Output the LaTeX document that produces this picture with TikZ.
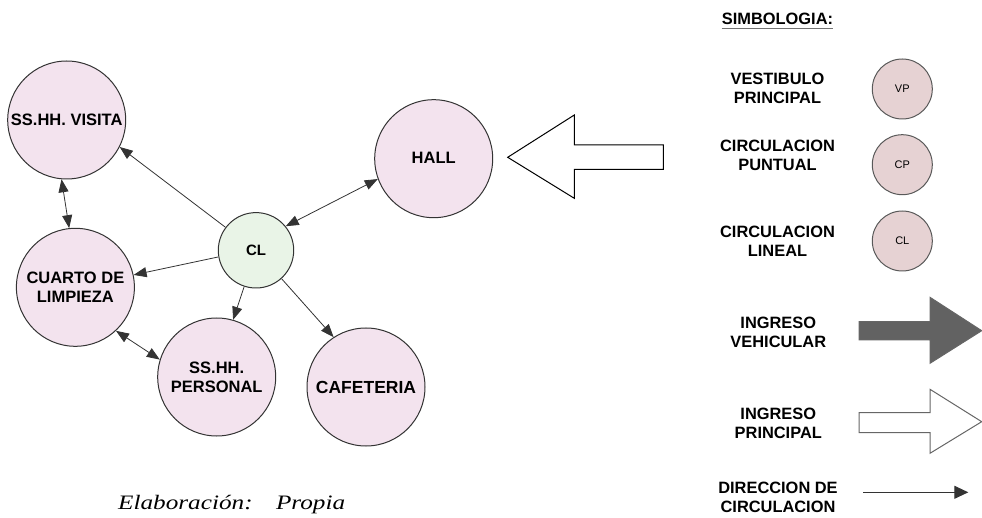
\documentclass[tikz,border=0pt]{standalone}
\usepackage{graphicx}
\usepackage{fontspec}
\setmainfont{Liberation Sans}
\newfontfamily\capfont{Liberation Serif}
\usetikzlibrary{arrows.meta}
\definecolor{roomfill}{HTML}{F3E3EE}
\definecolor{clfill}{HTML}{E9F4E7}
\definecolor{legfill}{HTML}{E6D2D3}
\definecolor{darkarrow}{HTML}{626262}
\definecolor{edge}{HTML}{333333}
\begin{document}
\begin{tikzpicture}[x=1pt,y=-1pt,
  room/.style={circle, draw=edge, line width=1pt, fill=roomfill, minimum size=118pt,
    inner sep=0pt, align=center, font=\bfseries\fontsize{16.5}{19}\selectfont},
  conn/.style={draw=edge, line width=0.8pt},
  tip/.style={-{Triangle[length=13pt,width=10pt]}},
  tips/.style={{Triangle[length=13pt,width=10pt]}-{Triangle[length=13pt,width=10pt]}},
  legtext/.style={inner sep=0pt, align=center, font=\bfseries\fontsize{16.4}{19}\selectfont},
  legcircle/.style={circle, draw=black!65, line width=1pt, fill=legfill, minimum size=60pt,
    inner sep=0pt, font=\fontsize{11}{13}\selectfont},
  bigarrow/.style={line width=1pt, line join=miter}
]
\useasboundingbox (0,0) rectangle (982,518);

% rooms
\node[room] (visita) at (66.7,120) {SS.HH. VISITA};
\node[room] (hall) at (433.7,158.7) {\raisebox{2.5pt}{HALL}};
\node[room, fill=clfill, minimum size=75.4pt, font=\bfseries\fontsize{15}{18}\selectfont] (cl) at (256,250.3) {CL};
\node[room] (cuarto) at (75.4,287.3) {CUARTO DE\\LIMPIEZA};
\node[room] (personal) at (216.7,377) {SS.HH.\\PERSONAL};
\node[room, font=\bfseries\fontsize{17.5}{20}\selectfont] (cafe) at (366,387) {\raisebox{-2pt}{CAFETERIA}};

% connectors
\draw[conn,tip] (cl.143) -- (visita.333);
\draw[conn,tips] (cl.39) -- (hall.200);
\draw[conn,tips] (visita.265) -- (cuarto.96);
\draw[conn,tip] (cl.190) -- (cuarto.12);
\draw[conn,tip] (cl.252) -- (personal.74);
\draw[conn,tip] (cl.312) -- (cafe.123);
\draw[conn,tips] (cuarto.313) -- (personal.163);

% main entrance arrow
\draw[bigarrow, draw=black, fill=white] (507.7,157.3) -- (574.3,115) -- (574.3,145) -- (663.3,145)
  -- (663.3,169.3) -- (574.3,169.3) -- (574.3,198.3) -- cycle;

% caption
\node[anchor=base west, inner sep=0pt] (cap) at (118,509.5)
  {\capfont\itshape\fontsize{20.5}{24}\selectfont\scalebox{1.23}[1]{Elaboración:\hspace{19pt}Propia}};

% legend
\node[legtext, anchor=base] (simb) at (777.5,25) {SIMBOLOGIA:};
\draw[black!55, line width=1.5pt] ([yshift=-3.3pt]simb.base west) -- ([yshift=-3.3pt]simb.base east);

\node[legtext] (lvp) at (777.5,88.5) {VESTIBULO\\PRINCIPAL};
\node[legcircle] (cvp) at (902.3,89) {VP};
\node[legtext] (lcp) at (777.5,155.3) {CIRCULACION\\PUNTUAL};
\node[legcircle] (ccp) at (902.3,164.7) {CP};
\node[legtext] (lcl) at (777.5,241) {CIRCULACION\\LINEAL};
\node[legcircle] (ccl) at (902.3,241) {CL};

\node[legtext] (lveh) at (778.3,332) {INGRESO\\VEHICULAR};
\draw[bigarrow, draw=black!60, fill=darkarrow] (859,321.7) -- (930,321.7) -- (930,297.3) -- (981.7,330.7)
  -- (930,363.3) -- (930,340) -- (859,340) -- cycle;

\node[legtext] (lpri) at (778.3,423) {INGRESO\\PRINCIPAL};
\draw[bigarrow, draw=black!60, fill=white] (859,412.7) -- (930,412.7) -- (930,389.3) -- (981.7,421.7)
  -- (930,453.3) -- (930,432.7) -- (859,432.7) -- cycle;

\node[legtext] (ldir) at (778,497) {DIRECCION DE\\CIRCULACION};
\coordinate (d1) at (863.3,492.3);
\coordinate (d2) at (968.3,492.3);
\draw[line width=1pt, black!80, -{Triangle[length=14pt,width=13pt]}] (d1) -- (d2);
\end{tikzpicture}
\end{document}
